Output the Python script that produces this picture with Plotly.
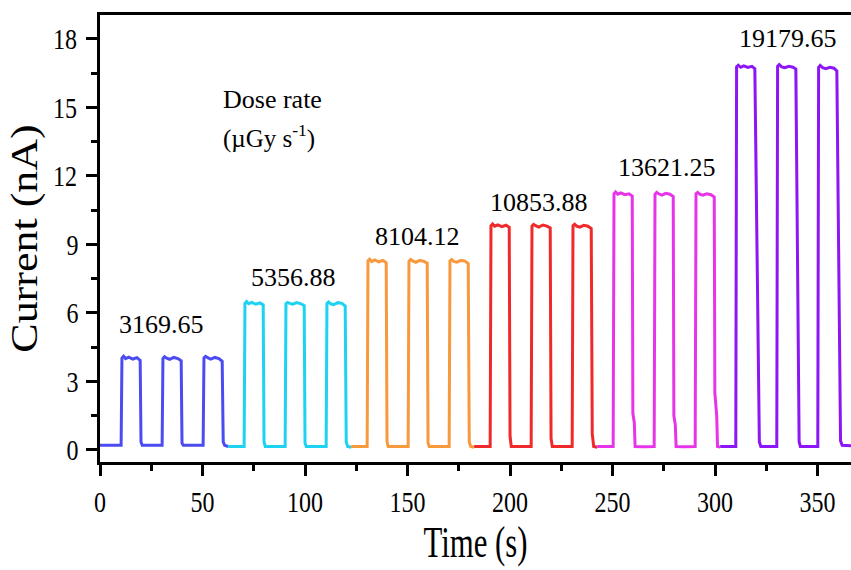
import plotly.graph_objects as go

# ---- data ----
dose_labels = ["3169.65", "5356.88", "8104.12", "10853.88", "13621.25", "19179.65"]
colors = ["#4b4bf2", "#1ed2f2", "#f7993c", "#f02a2a", "#e834e8", "#8c16f5"]

t_blue = [0, 5, 10.3, 10.7, 11.5, 12.5, 14, 16, 18, 19.6, 20.0, 20.6, 25, 30.3, 30.7, 31.5, 32.5, 34, 36, 38, 39.6, 40.0, 40.6,
          45, 50.3, 50.7, 51.5, 52.5, 54, 56, 58, 59.6, 60.1, 60.8, 62.5]
i_blue = [0.2, 0.21, 0.2, 4.02, 4.1, 4.0, 4.06, 3.98, 4.04, 3.92, 0.35, 0.2, 0.19, 0.2, 4.0, 4.08, 4.02, 3.97, 4.05, 4.0, 3.9, 0.3, 0.2,
          0.19, 0.2, 4.03, 4.1, 4.04, 3.98, 4.05, 4.0, 3.88, 0.35, 0.2, 0.15]

t_cyan = [62.5, 65, 70.3, 70.7, 71.5, 72.5, 74, 76, 78, 79.6, 80.0, 80.6, 85, 90.3, 90.7, 91.5, 92.5, 94, 96, 98, 99.6, 100.0, 100.6,
          105, 110.3, 110.7, 111.5, 112.5, 114, 116, 118, 119.6, 120.1, 120.8, 122.5]
i_cyan = [0.15, 0.16, 0.15, 6.42, 6.5, 6.4, 6.46, 6.38, 6.44, 6.35, 0.35, 0.15, 0.14, 0.15, 6.4, 6.46, 6.42, 6.38, 6.45, 6.4, 6.32, 0.3, 0.15,
          0.14, 0.15, 6.42, 6.48, 6.4, 6.36, 6.45, 6.42, 6.3, 0.35, 0.15, 0.12]

t_orange = [122.5, 125, 130.3, 130.7, 131.5, 132.5, 134, 136, 138, 139.6, 140.0, 140.6, 145, 150.3, 150.7, 151.5, 152.5, 154, 156, 158, 159.6, 160.0, 160.6,
            165, 170.3, 170.7, 171.5, 172.5, 174, 176, 178, 179.6, 180.1, 180.8, 182.5]
i_orange = [0.15, 0.16, 0.15, 8.28, 8.35, 8.25, 8.32, 8.24, 8.3, 8.2, 0.35, 0.15, 0.14, 0.15, 8.26, 8.34, 8.28, 8.22, 8.3, 8.26, 8.18, 0.3, 0.15,
            0.14, 0.15, 8.28, 8.34, 8.26, 8.22, 8.3, 8.27, 8.16, 0.35, 0.15, 0.12]

t_red = [182.5, 185, 190.3, 190.7, 191.5, 192.5, 194, 196, 198, 199.6, 200.0, 200.6, 205, 210.3, 210.7, 211.5, 212.5, 214, 216, 218, 219.6, 220.0, 220.6,
         225, 230.3, 230.7, 231.5, 232.5, 234, 236, 238, 239.6, 240.1, 240.8, 242.5]
i_red = [0.15, 0.16, 0.15, 9.82, 9.9, 9.8, 9.86, 9.78, 9.84, 9.75, 0.6, 0.15, 0.14, 0.15, 9.8, 9.88, 9.82, 9.76, 9.85, 9.8, 9.72, 0.5, 0.15,
         0.14, 0.15, 9.82, 9.88, 9.8, 9.76, 9.84, 9.8, 9.7, 0.7, 0.15, 0.12]

t_magenta = [242.5, 245, 250.3, 250.7, 251.5, 252.5, 254, 256, 258, 259.6, 259.9, 260.6, 261.0,
             265, 270.3, 270.7, 271.5, 272.5, 274, 276, 278, 279.6, 279.9, 280.6, 281.0,
             285, 290.3, 290.7, 291.5, 292.5, 294, 296, 298, 299.6, 299.9, 300.8, 301.2, 302.5]
i_magenta = [0.15, 0.16, 0.15, 11.22, 11.3, 11.2, 11.26, 11.18, 11.22, 11.12, 1.6, 1.2, 0.15,
             0.14, 0.15, 11.2, 11.28, 11.22, 11.16, 11.24, 11.2, 11.1, 1.5, 1.1, 0.15,
             0.14, 0.15, 11.22, 11.28, 11.2, 11.16, 11.22, 11.18, 11.08, 2.5, 1.5, 0.15, 0.12]

t_purple = [302.5, 305, 310.1, 310.5, 311.3, 312.5, 314, 316, 318, 319.4, 321.6, 322.3,
            325, 330.1, 330.5, 331.3, 332.5, 334, 336, 338, 339.4, 341.0, 341.6,
            345, 350.1, 350.5, 351.3, 352.5, 354, 356, 358, 359.4, 361.2, 362.0, 366.5]
i_purple = [0.15, 0.16, 0.15, 16.78, 16.85, 16.76, 16.82, 16.75, 16.8, 16.7, 0.35, 0.15,
            0.14, 0.15, 16.8, 16.88, 16.78, 16.74, 16.8, 16.76, 16.68, 0.35, 0.15,
            0.14, 0.15, 16.76, 16.84, 16.74, 16.7, 16.76, 16.72, 16.6, 0.4, 0.2, 0.18]

# label anchor positions (data coordinates)
label_x = [29.8, 94.5, 155.0, 214.0, 276.5, 335.5]
label_y = [5.5, 7.55, 9.35, 10.85, 12.35, 18.0]

x_ticks = [0, 50, 100, 150, 200, 250, 300, 350]
y_ticks = [0, 3, 6, 9, 12, 15, 18]

series = [(t_blue, i_blue), (t_cyan, i_cyan), (t_orange, i_orange),
          (t_red, i_red), (t_magenta, i_magenta), (t_purple, i_purple)]

FONT = "Liberation Serif"

fig = go.Figure()
for (tx, iy), c, name in zip(series, colors, dose_labels):
    fig.add_trace(go.Scatter(x=tx, y=iy, mode="lines", name=name,
                             line=dict(color=c, width=3), showlegend=False))

for lx, ly, txt in zip(label_x, label_y, dose_labels):
    fig.add_annotation(x=lx, y=ly, text=txt, showarrow=False,
                       font=dict(family=FONT, size=26, color="black"),
                       xanchor="center", yanchor="middle")

fig.add_annotation(x=59, y=15.33, text="Dose rate", showarrow=False, xanchor="left",
                   yanchor="middle", font=dict(family=FONT, size=26, color="black"))
fig.add_annotation(x=59, y=13.71, text="(µGy s<sup>-1</sup>)", showarrow=False, xanchor="left",
                   yanchor="middle", font=dict(family=FONT, size=25, color="black"))

axis_common = dict(showline=True, linecolor="black", linewidth=3, ticks="outside",
                   tickcolor="black", tickwidth=3, ticklen=11, showgrid=False, zeroline=False,
                   tickfont=dict(family=FONT, size=30, color="black"))

fig.update_xaxes(range=[0, 366.3], tickvals=x_ticks, mirror=True,
                 minor=dict(ticks="outside", ticklen=6, tickwidth=3, tickcolor="black", dtick=25, tick0=0),
                 title=dict(text="Time (s)", font=dict(family=FONT, size=44, color="black"), standoff=4),
                 **axis_common)
fig.update_yaxes(range=[-0.53, 19.05], tickvals=y_ticks,
                 minor=dict(ticks="outside", ticklen=6, tickwidth=3, tickcolor="black", dtick=1.5, tick0=0),
                 title=dict(text="Current (nA)", font=dict(family=FONT, size=44, color="black"), standoff=6),
                 **axis_common)

fig.update_layout(width=851, height=570, margin=dict(l=100, r=0, t=15, b=108),
                  plot_bgcolor="white", paper_bgcolor="white")

# The reference's axis texts are horizontally condensed; reproduce by scaling the
# rendered SVG text elements along x (they stay real text).
post_js = """
(function(){
  var gd = document.getElementById('{plot_id}');
  var specs = [['g.xtick text', 0.8], ['g.ytick text', 0.8], ['text.xtitle', 0.7], ['text.ytitle', 0.85]];
  function squeeze(){
    specs.forEach(function(sp){
      gd.querySelectorAll(sp[0]).forEach(function(el){
        var cur = el.getAttribute('transform') || '';
        if (el.__sq !== undefined && el.__sq === cur) return;
        var svg = el.ownerSVGElement;
        var sr = svg.getBoundingClientRect();
        var r = el.getBoundingClientRect();
        var cx = r.left + r.width / 2 - sr.left, cy = r.top + r.height / 2 - sr.top;
        var P = el.parentNode.getCTM();
        var px = cx - (P ? P.e : 0), py = cy - (P ? P.f : 0);
        var t = 'translate(' + px + ',' + py + ') scale(' + sp[1] + ',1) translate(' + (-px) + ',' + (-py) + ') ' + cur;
        el.setAttribute('transform', t);
        el.__sq = t;
      });
    });
  }
  squeeze();
  if (gd.on) gd.on('plotly_afterplot', squeeze);
})();
"""

fig.write_html("out.html", post_script=post_js)
